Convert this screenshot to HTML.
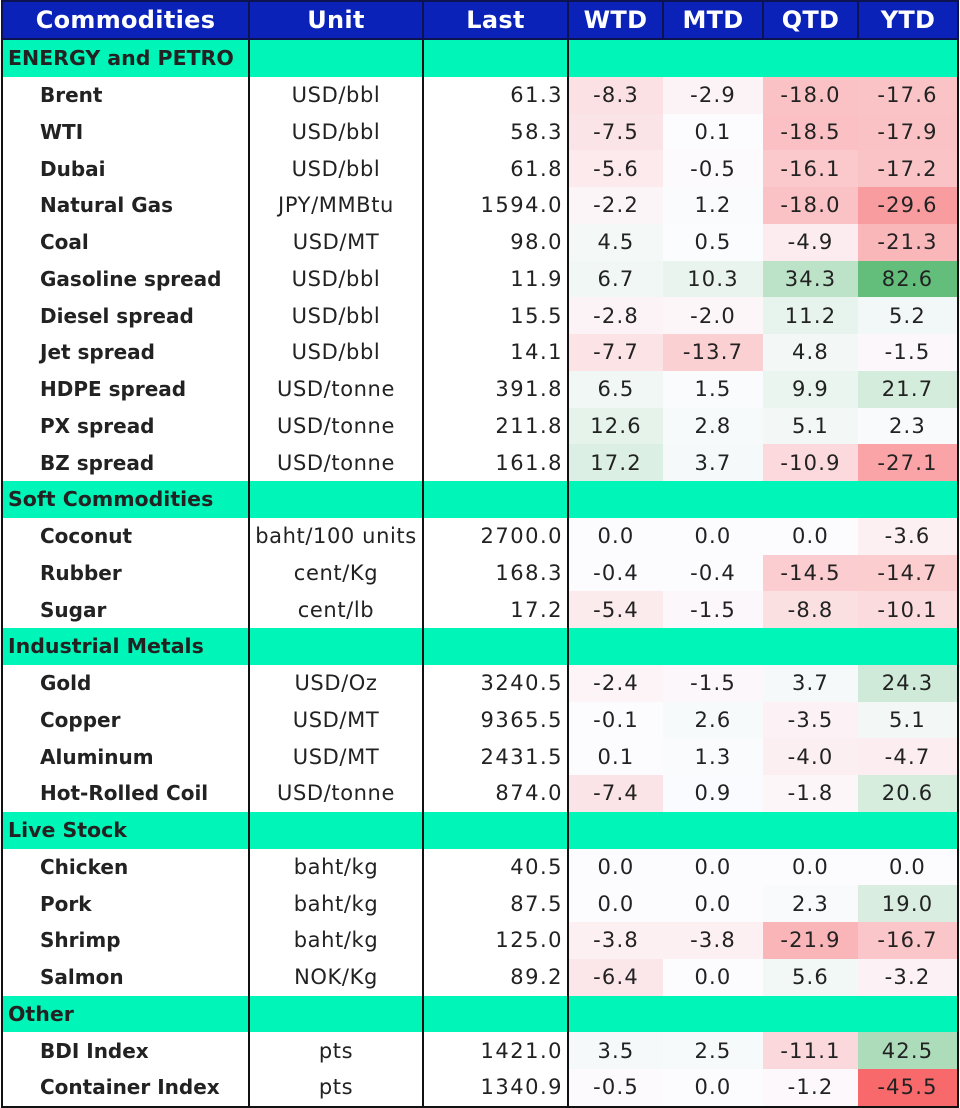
<!DOCTYPE html>
<html><head><meta charset="utf-8"><style>
body{margin:0;background:#fff;width:960px;height:1108px;overflow:hidden}
table{border-collapse:collapse;table-layout:fixed;font-family:"DejaVu Sans","Liberation Sans",sans-serif;font-size:21px;color:#222;position:absolute;left:1px;top:0px}
td,th{padding:0;height:36.75px;white-space:nowrap;overflow:hidden}
th{background:#0a22b8;color:#fff;font-size:24px;letter-spacing:0.3px;height:36px;border:2px solid #0b1450;font-weight:bold}
td.n{font-weight:bold;font-size:20px;padding-left:37px;border-left:2px solid #111;border-right:2px solid #111}
td.u{text-align:center;border-right:2px solid #111;letter-spacing:0.6px}
td.l{text-align:right;padding-right:4px;border-right:2px solid #111;letter-spacing:1.5px}
td.v{text-align:center;letter-spacing:1.2px}
tr.s td{background:#00f5b8;font-weight:bold;font-size:20.5px;padding-left:5px;border-left:2px solid #111;border-right:2px solid #111}
tr.last td{border-bottom:2px solid #111}
td.v:last-child{border-right:2px solid #111}
</style></head><body>
<table id="t">
<colgroup><col style="width:247px"><col style="width:174px"><col style="width:145px"><col style="width:95px"><col style="width:100px"><col style="width:95px"><col style="width:100px"></colgroup>
<tr><th>Commodities</th><th>Unit</th><th>Last</th><th>WTD</th><th>MTD</th><th>QTD</th><th>YTD</th></tr>
<tr class="s"><td>ENERGY and PETRO</td><td></td><td></td><td colspan="4"></td></tr>
<tr><td class="n">Brent</td><td class="u">USD/bbl</td><td class="l">61.3</td><td class="v">-8.3</td><td class="v">-2.9</td><td class="v">-18.0</td><td class="v">-17.6</td></tr>
<tr><td class="n">WTI</td><td class="u">USD/bbl</td><td class="l">58.3</td><td class="v">-7.5</td><td class="v">0.1</td><td class="v">-18.5</td><td class="v">-17.9</td></tr>
<tr><td class="n">Dubai</td><td class="u">USD/bbl</td><td class="l">61.8</td><td class="v">-5.6</td><td class="v">-0.5</td><td class="v">-16.1</td><td class="v">-17.2</td></tr>
<tr><td class="n">Natural Gas</td><td class="u">JPY/MMBtu</td><td class="l">1594.0</td><td class="v">-2.2</td><td class="v">1.2</td><td class="v">-18.0</td><td class="v">-29.6</td></tr>
<tr><td class="n">Coal</td><td class="u">USD/MT</td><td class="l">98.0</td><td class="v">4.5</td><td class="v">0.5</td><td class="v">-4.9</td><td class="v">-21.3</td></tr>
<tr><td class="n">Gasoline spread</td><td class="u">USD/bbl</td><td class="l">11.9</td><td class="v">6.7</td><td class="v">10.3</td><td class="v">34.3</td><td class="v">82.6</td></tr>
<tr><td class="n">Diesel spread</td><td class="u">USD/bbl</td><td class="l">15.5</td><td class="v">-2.8</td><td class="v">-2.0</td><td class="v">11.2</td><td class="v">5.2</td></tr>
<tr><td class="n">Jet spread</td><td class="u">USD/bbl</td><td class="l">14.1</td><td class="v">-7.7</td><td class="v">-13.7</td><td class="v">4.8</td><td class="v">-1.5</td></tr>
<tr><td class="n">HDPE spread</td><td class="u">USD/tonne</td><td class="l">391.8</td><td class="v">6.5</td><td class="v">1.5</td><td class="v">9.9</td><td class="v">21.7</td></tr>
<tr><td class="n">PX spread</td><td class="u">USD/tonne</td><td class="l">211.8</td><td class="v">12.6</td><td class="v">2.8</td><td class="v">5.1</td><td class="v">2.3</td></tr>
<tr><td class="n">BZ spread</td><td class="u">USD/tonne</td><td class="l">161.8</td><td class="v">17.2</td><td class="v">3.7</td><td class="v">-10.9</td><td class="v">-27.1</td></tr>
<tr class="s"><td>Soft Commodities</td><td></td><td></td><td colspan="4"></td></tr>
<tr><td class="n">Coconut</td><td class="u">baht/100 units</td><td class="l">2700.0</td><td class="v">0.0</td><td class="v">0.0</td><td class="v">0.0</td><td class="v">-3.6</td></tr>
<tr><td class="n">Rubber</td><td class="u">cent/Kg</td><td class="l">168.3</td><td class="v">-0.4</td><td class="v">-0.4</td><td class="v">-14.5</td><td class="v">-14.7</td></tr>
<tr><td class="n">Sugar</td><td class="u">cent/lb</td><td class="l">17.2</td><td class="v">-5.4</td><td class="v">-1.5</td><td class="v">-8.8</td><td class="v">-10.1</td></tr>
<tr class="s"><td>Industrial Metals</td><td></td><td></td><td colspan="4"></td></tr>
<tr><td class="n">Gold</td><td class="u">USD/Oz</td><td class="l">3240.5</td><td class="v">-2.4</td><td class="v">-1.5</td><td class="v">3.7</td><td class="v">24.3</td></tr>
<tr><td class="n">Copper</td><td class="u">USD/MT</td><td class="l">9365.5</td><td class="v">-0.1</td><td class="v">2.6</td><td class="v">-3.5</td><td class="v">5.1</td></tr>
<tr><td class="n">Aluminum</td><td class="u">USD/MT</td><td class="l">2431.5</td><td class="v">0.1</td><td class="v">1.3</td><td class="v">-4.0</td><td class="v">-4.7</td></tr>
<tr><td class="n">Hot-Rolled Coil</td><td class="u">USD/tonne</td><td class="l">874.0</td><td class="v">-7.4</td><td class="v">0.9</td><td class="v">-1.8</td><td class="v">20.6</td></tr>
<tr class="s"><td>Live Stock</td><td></td><td></td><td colspan="4"></td></tr>
<tr><td class="n">Chicken</td><td class="u">baht/kg</td><td class="l">40.5</td><td class="v">0.0</td><td class="v">0.0</td><td class="v">0.0</td><td class="v">0.0</td></tr>
<tr><td class="n">Pork</td><td class="u">baht/kg</td><td class="l">87.5</td><td class="v">0.0</td><td class="v">0.0</td><td class="v">2.3</td><td class="v">19.0</td></tr>
<tr><td class="n">Shrimp</td><td class="u">baht/kg</td><td class="l">125.0</td><td class="v">-3.8</td><td class="v">-3.8</td><td class="v">-21.9</td><td class="v">-16.7</td></tr>
<tr><td class="n">Salmon</td><td class="u">NOK/Kg</td><td class="l">89.2</td><td class="v">-6.4</td><td class="v">0.0</td><td class="v">5.6</td><td class="v">-3.2</td></tr>
<tr class="s"><td>Other</td><td></td><td></td><td colspan="4"></td></tr>
<tr><td class="n">BDI Index</td><td class="u">pts</td><td class="l">1421.0</td><td class="v">3.5</td><td class="v">2.5</td><td class="v">-11.1</td><td class="v">42.5</td></tr>
<tr class="last"><td class="n">Container Index</td><td class="u">pts</td><td class="l">1340.9</td><td class="v">-0.5</td><td class="v">0.0</td><td class="v">-1.2</td><td class="v">-45.5</td></tr>
</table>
<script>
var cells=[].slice.call(document.querySelectorAll('#t td.v'));
var mn=-45.5,mx=82.6;
cells.forEach(function(x){
  var v=parseFloat(x.textContent),w=[252,252,255],e,f;
  if(v<0){e=[248,105,107];f=v/mn;}else{e=[99,190,123];f=v/mx;}
  var col=w.map(function(a,k){return Math.round(a+(e[k]-a)*f)});
  x.style.background='rgb('+col.join(',')+')';
});
</script>
</body></html>
